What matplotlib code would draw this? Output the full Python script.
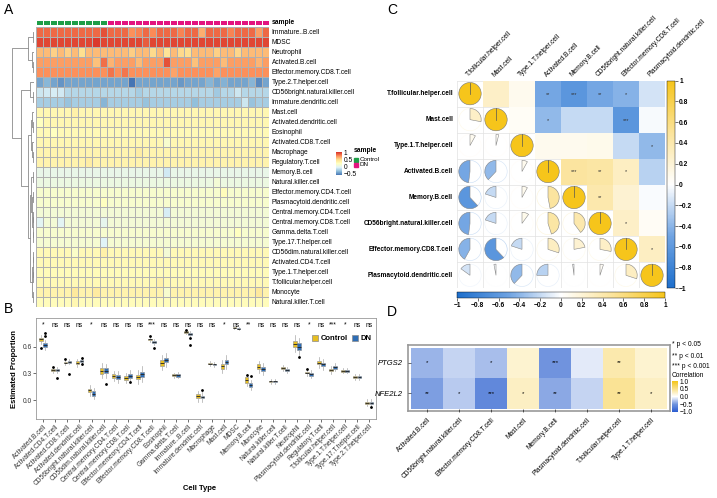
import numpy as np
import matplotlib.pyplot as plt
from matplotlib.colors import LinearSegmentedColormap, ListedColormap, Normalize
from matplotlib.patches import Rectangle, Wedge, Circle, Patch
import matplotlib as mpl

mpl.rcParams['font.family'] = ['Liberation Sans', 'DejaVu Sans']

W, H = 717, 498
fig = plt.figure(figsize=(W / 100, H / 100), dpi=100)


def box(x0, y0, x1, y1):
    # pixel rectangle (top-left origin) -> figure fraction
    return [x0 / W, 1 - y1 / H, (x1 - x0) / W, (y1 - y0) / H]


# ---------------- data : panel A ----------------
heat_rows = ['Immature..B.cell', 'MDSC', 'Neutrophil', 'Activated.B.cell',
             'Effector.memory.CD8.T.cell', 'Type.2.T.helper.cell',
             'CD56bright.natural.killer.cell', 'Immature.dendritic.cell', 'Mast.cell',
             'Activated.dendritic.cell', 'Eosinophil', 'Activated.CD8.T.cell', 'Macrophage',
             'Regulatory.T.cell', 'Memory.B.cell', 'Natural.killer.cell',
             'Effector.memory.CD4.T.cell', 'Plasmacytoid.dendritic.cell',
             'Central.memory.CD4.T.cell', 'Central.memory.CD8.T.cell', 'Gamma.delta.T.cell',
             'Type.17.T.helper.cell', 'CD56dim.natural.killer.cell', 'Activated.CD4.T.cell',
             'Type.1.T.helper.cell', 'T.follicular.helper.cell', 'Monocyte',
             'Natural.killer.T.cell']
heat_base = [0.88, 0.98, 0.62, 0.72, 0.76, -0.42, -0.2, -0.25, 0.3, 0.3, 0.28, 0.3, 0.32,
             0.33, 0.03, 0.06, 0.16, 0.16, 0.12, 0.12, 0.15, 0.14, 0.28, 0.28, 0.26, 0.28,
             0.33, 0.25]
n_ctrl, n_dn = 10, 23
# (row, column, value) cells that stand out from their row
heat_spots = [(0, 23, 0.66), (0, 31, 0.72), (0, 9, 0.95), (0, 13, 0.76), (0, 14, 0.8),
              (0, 16, 0.78), (0, 20, 0.8), (0, 27, 0.8), (1, 8, 1.02), (1, 15, 0.92),
              (2, 6, 0.5), (2, 18, 0.46), (2, 20, 0.52), (2, 21, 0.5), (2, 2, 0.55),
              (2, 4, 0.55), (2, 13, 0.56), (2, 16, 0.52), (2, 25, 0.55), (2, 28, 0.53),
              (3, 18, 0.95), (3, 9, 0.86), (3, 8, 0.6), (3, 10, 0.65), (3, 14, 0.62),
              (3, 22, 0.6), (3, 26, 0.62), (3, 31, 0.64), (4, 10, 0.85), (4, 12, 0.84),
              (4, 19, 0.7), (4, 25, 0.7), (5, 13, -0.62), (5, 31, -0.52), (5, 1, -0.35),
              (5, 3, -0.48), (5, 20, -0.47), (5, 24, -0.36), (5, 26, -0.37), (5, 30, -0.36),
              (6, 1, -0.1), (6, 2, -0.08), (6, 0, -0.12), (6, 3, -0.1), (6, 14, -0.25),
              (6, 25, -0.27), (6, 28, -0.12), (7, 9, -0.36), (7, 29, -0.12), (7, 4, -0.3),
              (7, 15, -0.3), (7, 22, -0.32), (7, 30, -0.3), (8, 5, 0.35), (9, 0, 0.22),
              (10, 2, 0.22), (11, 18, 0.15), (12, 14, 0.38), (13, 7, 0.38), (14, 18, -0.1),
              (15, 25, 0.12), (16, 26, 0.25), (17, 9, 0.22), (18, 18, -0.08), (19, 0, -0.02),
              (19, 3, -0.02), (19, 9, 0.0), (20, 28, 0.22), (21, 9, -0.05), (22, 5, 0.18),
              (22, 9, 0.35), (22, 18, 0.12), (25, 17, 0.35), (26, 8, 0.4), (26, 18, 0.15),
              (26, 31, 0.42), (26, 5, 0.42), (27, 5, 0.3)]
row_tree = [[[0, 1, 1.5], [2, [3, 4, 1.2], 2.5], 6.0],
            [[5, [6, 7, 1.5], 4.0],
             [[[8, [9, 10, 1.0], 2.0], [11, [12, 13, 1.0], 1.8], 3.0],
              [[[14, 15, 1.5], [[16, 17, 1.0], [[18, 19, 0.8], [20, 21, 1.0], 1.5], 2.0], 3.0],
               [[[22, 23, 0.8], [24, 25, 0.8], 1.5], [26, 27, 1.2], 2.5], 4.5], 6.0], 13.0],
            22.0]

# ---------------- data : panel B ----------------
cell_types = ['Activated.B.cell', 'Activated.CD4.T.cell', 'Activated.CD8.T.cell',
              'Activated.dendritic.cell', 'CD56bright.natural.killer.cell',
              'CD56dim.natural.killer.cell', 'Central.memory.CD4.T.cell',
              'Central.memory.CD8.T.cell', 'Effector.memeory.CD4.T.cell',
              'Effector.memory.CD8.T.cell', 'Eosinophil', 'Gamma.delta.T.cell',
              'Immature..B.cell', 'Immature.dendritic.cell', 'Macrophage', 'Mast.cell', 'MDSC',
              'Memory.B.cell', 'Monocyte', 'Natural.killer.cell', 'Natural.killer.T.cell',
              'Neutrophil', 'Plasmacytoid.dendritic.cell', 'Regulatory.T.cell',
              'T.follicular.helper.cell', 'Type.1.T.helper.cell', 'Type.17.T.helper.cell',
              'Type.2.T.helper.cell']
sig_b = ['*', 'ns', 'ns', 'ns', '*', 'ns', 'ns', 'ns', 'ns', '***', 'ns', 'ns', 'ns', 'ns',
         'ns', '*', 'ns', '**', 'ns', 'ns', 'ns', 'ns', '*', 'ns', '***', '*', 'ns', 'ns']
ctrl_med = [0.68, 0.34, 0.42, 0.42, 0.11, 0.33, 0.27, 0.25, 0.26, 0.68, 0.42, 0.28, 0.765,
            0.045, 0.41, 0.38, 0.81, 0.225, 0.375, 0.21, 0.36, 0.63, 0.31, 0.42, 0.34, 0.33,
            0.26, -0.03]
dn_med = [0.62, 0.34, 0.43, 0.44, 0.075, 0.33, 0.26, 0.27, 0.29, 0.65, 0.45, 0.28, 0.745,
          0.035, 0.40, 0.43, 0.80, 0.17, 0.35, 0.21, 0.34, 0.60, 0.29, 0.40, 0.37, 0.33,
          0.26, -0.03]
ctrl_iqr = [0.04, 0.02, 0.015, 0.03, 0.04, 0.07, 0.04, 0.04, 0.04, 0.02, 0.07, 0.02, 0.015,
            0.04, 0.02, 0.05, 0.01, 0.06, 0.05, 0.02, 0.02, 0.07, 0.02, 0.04, 0.03, 0.02,
            0.02, 0.02]
dn_iqr = [0.05, 0.02, 0.02, 0.03, 0.05, 0.06, 0.05, 0.05, 0.06, 0.03, 0.05, 0.03, 0.02,
          0.03, 0.02, 0.05, 0.015, 0.04, 0.05, 0.02, 0.03, 0.07, 0.03, 0.04, 0.03, 0.02,
          0.03, 0.02]
whisk = [0.03, 0.02, 0.02, 0.03, 0.04, 0.05, 0.04, 0.04, 0.06, 0.02, 0.05, 0.02, 0.02, 0.04,
         0.02, 0.05, 0.01, 0.04, 0.04, 0.02, 0.02, 0.06, 0.03, 0.04, 0.03, 0.02, 0.02, 0.03]
ctrl_out = {0: [0.58], 1: [0.37], 2: [0.46], 9: [0.72], 12: [0.79], 17: [0.28], 22: [0.35]}
dn_out = {0: [0.75, 0.72], 1: [0.25], 2: [0.29], 3: [0.47, 0.40], 5: [0.18], 7: [0.20],
          9: [0.58], 12: [0.70, 0.62], 13: [0.12], 17: [0.27], 21: [0.48], 27: [-0.08]}

# ---------------- data : panel C ----------------
corr_vars = ['T.follicular.helper.cell', 'Mast.cell', 'Type.1.T.helper.cell',
             'Activated.B.cell', 'Memory.B.cell', 'CD56bright.natural.killer.cell',
             'Effector.memory.CD8.T.cell', 'Plasmacytoid.dendritic.cell']
corr_vals = [[1, 0.28, 0.08, -0.48, -0.62, -0.48, -0.42, -0.15],
             [0.28, 1, 0.04, -0.38, -0.2, -0.2, -0.62, -0.03],
             [0.08, 0.04, 1, 0.08, 0.08, 0.1, -0.2, -0.38],
             [-0.48, -0.38, 0.08, 1, 0.47, 0.45, 0.3, -0.25],
             [-0.62, -0.2, 0.08, 0.47, 1, 0.4, 0.22, -0.02],
             [-0.48, -0.2, 0.1, 0.45, 0.4, 1, 0.28, 0.05],
             [-0.42, -0.62, -0.2, 0.3, 0.22, 0.28, 1, 0.3],
             [-0.15, -0.03, -0.38, -0.25, -0.02, 0.05, 0.3, 1]]
corr_sig = {(0, 3): '**', (0, 4): '***', (0, 5): '**', (0, 6): '*', (1, 3): '*',
            (1, 6): '***', (2, 7): '*', (3, 4): '***', (3, 5): '**', (3, 6): '*',
            (4, 5): '**', (5, 6): '*', (6, 7): '*'}

# ---------------- data : panel D ----------------
genes = ['PTGS2', 'NFE2L2']
gene_cells = ['Activated.B.cell', 'CD56bright.natural.killer.cell',
              'Effector.memory.CD8.T.cell', 'Mast.cell', 'Memory.B.cell',
              'Plasmacytoid.dendritic.cell', 'T.follicular.helper.cell', 'Type.1.T.helper.cell']
gene_corr = [[-0.35, -0.2, -0.3, 0.2, -0.5, -0.1, 0.35, 0.2],
             [-0.45, -0.25, -0.6, 0.25, -0.4, -0.2, 0.45, 0.25]]
gene_sig = [['*', '', '*', '', '***', '', '**', ''],
            ['**', '*', '***', '*', '**', '', '**', '*']]

FS = 4.8

# ======================= Panel A =======================
cmapA = LinearSegmentedColormap.from_list(
    'a', ['#4575B4', '#91BFDB', '#E0F3F8', '#FFFFBF', '#FEE090', '#FC8D59', '#D73027'])
normA = Normalize(-0.6, 1.05)
mat = np.tile(np.array(heat_base)[:, None], (1, n_ctrl + n_dn))
for r, c, v in heat_spots:
    mat[r, c] = v

axA = fig.add_axes(box(36, 27, 269, 307))
axA.pcolormesh(mat, cmap=cmapA, norm=normA, edgecolors='#b0b0b0', linewidth=0.4)
axA.set_xlim(0, n_ctrl + n_dn)
axA.set_ylim(len(heat_rows), 0)
axA.axis('off')
for i, name in enumerate(heat_rows):
    axA.text(n_ctrl + n_dn + 0.4, i + 0.5, name, fontsize=FS, va='center', ha='left')

axAnn = fig.add_axes(box(36, 20.5, 269, 25.5))
axAnn.pcolormesh(np.array([[0] * n_ctrl + [1] * n_dn]), cmap=ListedColormap(['#1E9E48', '#E2147F']),
                 edgecolors='white', linewidth=0.4)
axAnn.set_xlim(0, n_ctrl + n_dn)
axAnn.axis('off')
axAnn.text(n_ctrl + n_dn + 0.4, 0.5, 'sample', fontsize=FS, fontweight='bold', va='center')

axDen = fig.add_axes(box(0, 27, 34, 307))


def draw_tree(ax, node):
    if isinstance(node, int):
        return node + 0.5, 0.0
    left, right, h = node
    y1, h1 = draw_tree(ax, left)
    y2, h2 = draw_tree(ax, right)
    ax.plot([h1, h, h, h2], [y1, y1, y2, y2], color='#8a8a8a', lw=0.6)
    return (y1 + y2) / 2, h


draw_tree(axDen, row_tree)
axDen.set_xlim(34, 0)
axDen.set_ylim(len(heat_rows), 0)
axDen.axis('off')

caxA = fig.add_axes(box(336, 152, 342, 175))
cbA = fig.colorbar(mpl.cm.ScalarMappable(norm=normA, cmap=cmapA), cax=caxA)
cbA.set_ticks([1, 0.5, 0, -0.5])
cbA.set_ticklabels(['1', '0.5', '0', '\u22120.5'])
cbA.ax.tick_params(labelsize=FS, length=0, pad=1)
cbA.outline.set_visible(False)
fig.text(354 / W, 1 - 151 / H, 'sample', fontsize=FS, fontweight='bold', va='center')
for k, (lab, col) in enumerate([('Control', '#1E9E48'), ('DN', '#E2147F')]):
    fig.patches.append(Rectangle((354 / W, 1 - (161.5 + 5.5 * k) / H), 4 / W, 4 / H,
                                 transform=fig.transFigure, color=col))
    fig.text(360 / W, 1 - (159.5 + 5.5 * k) / H, lab, fontsize=4.5, va='center')

# ======================= Panel B =======================
c_ctrl, c_dn = '#E6BE22', '#2E6DB4'
axB = fig.add_axes(box(36, 318, 376, 419))
for group, meds, iqrs, outs, off, col in [('c', ctrl_med, ctrl_iqr, ctrl_out, -0.17, c_ctrl),
                                          ('d', dn_med, dn_iqr, dn_out, 0.17, c_dn)]:
    stats = []
    for i in range(len(cell_types)):
        q1, q3 = meds[i] - iqrs[i] / 2, meds[i] + iqrs[i] / 2
        stats.append(dict(med=meds[i], q1=q1, q3=q3, whislo=q1 - whisk[i],
                          whishi=q3 + whisk[i], fliers=outs.get(i, [])))
    axB.bxp(stats, positions=np.arange(len(cell_types)) + off, widths=0.3,
            patch_artist=True, manage_ticks=False,
            boxprops=dict(facecolor=col, edgecolor='#8c8c8c', lw=0.4),
            medianprops=dict(color='#222222', lw=0.6),
            whiskerprops=dict(color='#aaaaaa', lw=0.5), capprops=dict(lw=0),
            flierprops=dict(marker='o', markersize=1.0, markerfacecolor='black',
                            markeredgecolor='black'))
for i, s in enumerate(sig_b):
    axB.text(i, 0.84, s, fontsize=FS, ha='center', va='center')
axB.set_xlim(-0.6, len(cell_types) - 0.45)
axB.set_ylim(-0.21, 0.92)
axB.set_yticks([0.0, 0.3, 0.6])
axB.set_xticks(np.arange(len(cell_types)))
axB.set_xticklabels(cell_types, rotation=45, ha='right', rotation_mode='anchor', fontsize=4.6)
axB.tick_params(labelsize=4.8, length=2, width=0.5, colors='#333333', pad=1)
for sp in axB.spines.values():
    sp.set_color('#999999')
    sp.set_linewidth(0.6)
axB.set_ylabel('Estimated Proportion', fontsize=5.5, fontweight='bold', labelpad=3)
fig.text(200 / W, 1 - 490 / H, 'Cell Type', fontsize=5.5, fontweight='bold', ha='center')
axB.legend(handles=[Patch(facecolor=c_ctrl, edgecolor='#8c8c8c', lw=0.5, label='Control'),
                    Patch(facecolor=c_dn, edgecolor='#8c8c8c', lw=0.5, label='DN')],
           loc='upper right', bbox_to_anchor=(1.0, 0.88), ncol=2, frameon=False,
           prop=dict(size=5.5, weight='bold'), handlelength=0.8, handleheight=0.8,
           handletextpad=0.3, columnspacing=0.6, borderaxespad=0.2)

# ======================= Panel C =======================
cmapC = LinearSegmentedColormap.from_list(
    'c', [(0, '#1E6FCC'), (0.25, '#6FA3E2'), (0.5, '#FFFFFF'), (0.75, '#FBE39A'),
          (1, '#F6C51B')])
normC = Normalize(-1, 1)
R = np.array(corr_vals)
nC = len(corr_vars)
axC = fig.add_axes(box(457, 80.7, 665, 288.3))
axC.set_xlim(0, nC)
axC.set_ylim(nC, 0)
for i in range(nC):
    for j in range(nC):
        v = R[i, j]
        col = cmapC(normC(v))
        if j > i:
            axC.add_patch(Rectangle((j, i), 1, 1, facecolor=col, edgecolor='none'))
            if (i, j) in corr_sig:
                axC.text(j + 0.5, i + 0.52, corr_sig[(i, j)], fontsize=4, ha='center',
                         va='center', color='#333333')
        else:
            cx, cy, rad = j + 0.5, i + 0.5, 0.43
            if i == j:
                axC.add_patch(Circle((cx, cy), rad, facecolor=col, edgecolor='#777777', lw=0.4))
                axC.plot([cx, cx], [cy, cy - rad], color='#555555', lw=0.5)
            else:
                axC.add_patch(Circle((cx, cy), rad, facecolor='none',
                                     edgecolor=cmapC(normC(v * 0.4)), lw=0.4))
                if v >= 0:
                    t1, t2 = 90 - 360 * v, 90
                else:
                    t1, t2 = 90, 90 - 360 * v
                # y axis is inverted, so mirror the angles
                axC.add_patch(Wedge((cx, cy), rad, -t2, -t1, facecolor=col,
                                    edgecolor='#888888', lw=0.4))
for k in range(nC + 1):
    axC.plot([k, k], [0, nC], color='#e2e2e2', lw=0.5, zorder=0.5)
    axC.plot([0, nC], [k, k], color='#e2e2e2', lw=0.5, zorder=0.5)
axC.axis('off')
for i, name in enumerate(corr_vars):
    axC.text(-0.15, i + 0.5, name, fontsize=4.7, fontweight='bold', ha='right', va='center')
    axC.text(i + 0.5, -0.1, name, fontsize=FS, rotation=45, ha='left', va='bottom',
             rotation_mode='anchor')

ticksC = np.round(np.arange(-1, 1.01, 0.2), 1)
labsC = ['\u22121', '\u22120.8', '\u22120.6', '\u22120.4', '\u22120.2', '0', '0.2', '0.4',
         '0.6', '0.8', '1']
caxC = fig.add_axes(box(667, 80.7, 675, 288.3))
cbC = fig.colorbar(mpl.cm.ScalarMappable(norm=normC, cmap=cmapC), cax=caxC)
cbC.set_ticks(ticksC)
cbC.set_ticklabels(labsC)
cbC.ax.tick_params(labelsize=FS, length=2, width=0.4, pad=1)
cbC.outline.set_linewidth(0.3)
for t in cbC.ax.get_yticklabels():
    t.set_fontweight('bold')

caxC2 = fig.add_axes(box(457, 291.7, 665, 298.3))
cbC2 = fig.colorbar(mpl.cm.ScalarMappable(norm=normC, cmap=cmapC), cax=caxC2,
                    orientation='horizontal')
cbC2.set_ticks(ticksC)
cbC2.set_ticklabels(labsC)
cbC2.ax.tick_params(labelsize=FS, length=2, width=0.4, pad=1)
cbC2.outline.set_linewidth(0.3)
for t in cbC2.ax.get_xticklabels():
    t.set_fontweight('bold')

# ======================= Panel D =======================
cmapD = LinearSegmentedColormap.from_list(
    'd', [(0, '#2A5BD0'), (0.25, '#6F93DE'), (0.5, '#FFFFFF'), (0.75, '#F9E08A'),
          (1, '#F5C518')])
normD = Normalize(-1, 1)
frame = fig.add_axes(box(408, 345, 670, 411))
frame.set_xticks([])
frame.set_yticks([])
for sp in frame.spines.values():
    sp.set_color('#999999')
    sp.set_linewidth(1.2)
axD = fig.add_axes(box(411, 347.5, 667, 408.5))
axD.pcolormesh(np.array(gene_corr), cmap=cmapD, norm=normD)
axD.set_xlim(0, len(gene_cells))
axD.set_ylim(len(genes), 0)
for i in range(len(genes)):
    for j in range(len(gene_cells)):
        if gene_sig[i][j]:
            axD.text(j + 0.5, i + 0.5, gene_sig[i][j], fontsize=4.3, ha='center', va='center')
axD.set_yticks(np.arange(len(genes)) + 0.5)
axD.set_yticklabels(genes, fontsize=5.5, fontstyle='italic')
axD.set_xticks(np.arange(len(gene_cells)) + 0.5)
axD.set_xticklabels(gene_cells, rotation=45, ha='right', rotation_mode='anchor', fontsize=FS)
axD.tick_params(length=2, width=0.4, pad=4)
for sp in axD.spines.values():
    sp.set_visible(False)

for k, s in enumerate(['* p < 0.05', '** p < 0.01', '*** p < 0.001']):
    fig.text(672 / W, 1 - (345 + 11 * k) / H, s, fontsize=FS, va='center')
fig.text(672 / W, 1 - 375 / H, 'Correlation', fontsize=FS, va='center')
caxD = fig.add_axes(box(672, 381, 678, 412))
cbD = fig.colorbar(mpl.cm.ScalarMappable(norm=normD, cmap=cmapD), cax=caxD)
cbD.set_ticks([1, 0.5, 0, -0.5, -1])
cbD.set_ticklabels(['1.0', '0.5', '0.0', '\u22120.5', '\u22121.0'])
cbD.ax.tick_params(labelsize=FS, length=0, pad=1)
cbD.outline.set_visible(False)

# panel letters
for lab, x, y in [('A', 4, 10), ('B', 4, 309), ('C', 387, 10), ('D', 387, 312)]:
    fig.text(x / W, 1 - y / H, lab, fontsize=10, va='center')

fig.savefig('out.png', dpi=100)
